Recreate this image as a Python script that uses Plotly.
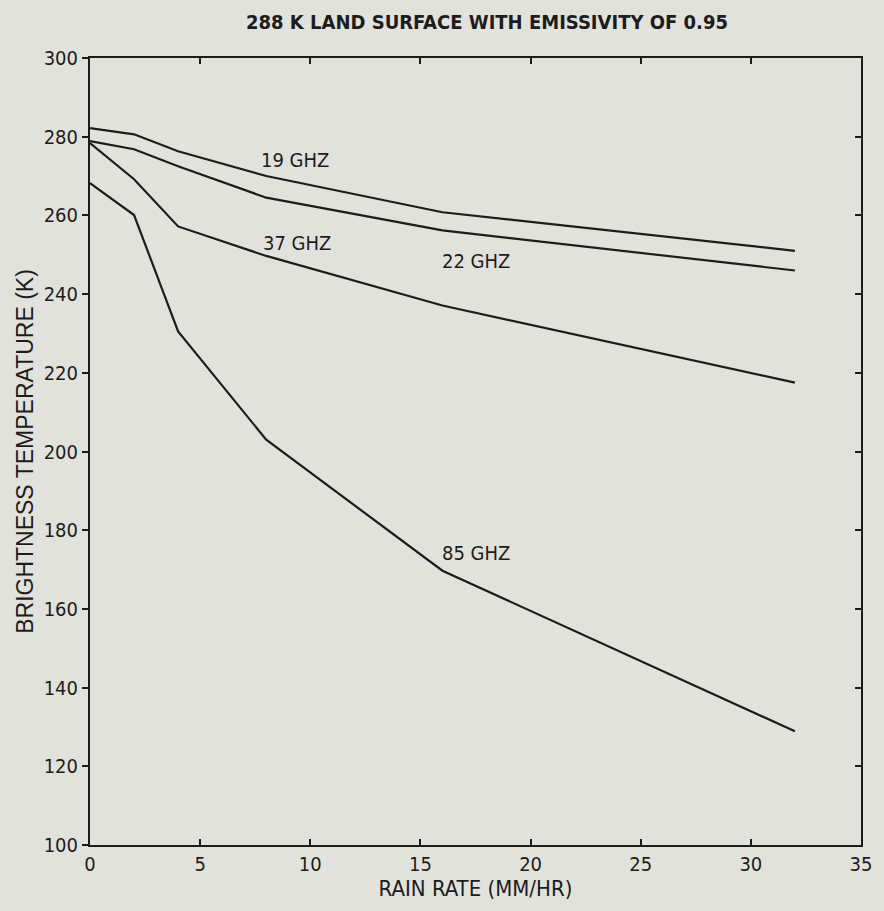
import plotly.graph_objects as go

# Rain rates (mm/hr) at which brightness temperatures were computed
rain_rate = [0, 2, 4, 8, 16, 32]

# Brightness temperatures (K) for each channel
tb_19 = [282.2, 280.6, 276.3, 270.0, 260.8, 251.0]
tb_22 = [278.9, 276.8, 272.5, 264.5, 256.2, 246.0]
tb_37 = [278.4, 269.2, 257.2, 249.7, 237.1, 217.5]
tb_85 = [268.2, 260.1, 230.5, 203.0, 169.7, 128.9]

channels = ["19 GHZ", "22 GHZ", "37 GHZ", "85 GHZ"]
series = [tb_19, tb_22, tb_37, tb_85]

# Where each channel name is written
label_x = [9.3, 17.5, 9.4, 17.5]
label_y = [274.0, 248.3, 252.9, 174.2]

x_ticks = [0, 5, 10, 15, 20, 25, 30, 35]
y_ticks = [100, 120, 140, 160, 180, 200, 220, 240, 260, 280, 300]

FONT = "DejaVu Sans Condensed, Roboto, sans-serif"
WIDE_FONT = "Liberation Sans, Arial, sans-serif"
INK = "#1c1c1c"
PAPER = "#e2e2dc"

fig = go.Figure()

for name, tb in zip(channels, series):
    fig.add_trace(go.Scatter(
        x=rain_rate, y=tb, mode="lines", name=name,
        line=dict(color=INK, width=2.2),
        showlegend=False,
    ))

for name, lx, ly in zip(channels, label_x, label_y):
    fig.add_annotation(
        x=lx, y=ly, text=name, showarrow=False,
        font=dict(family=FONT, size=20, color=INK),
    )

# Mirror of the y axis on the right, with ticks pointing inward
fig.add_trace(go.Scatter(x=[None], y=[None], yaxis="y2", showlegend=False))

fig.update_layout(
    width=884, height=911,
    margin=dict(l=90, r=18, t=58, b=66),
    paper_bgcolor=PAPER, plot_bgcolor=PAPER,
    font=dict(family=FONT, color=INK, size=18),
    xaxis=dict(
        range=[0, 35], tickvals=x_ticks, ticks="inside", ticklen=6,
        tickwidth=1.5, tickcolor=INK, showline=True, linecolor=INK,
        linewidth=2, mirror="ticks", showgrid=False, zeroline=False,
        tickfont=dict(family=FONT, size=20, color=INK),
        title=dict(text="RAIN RATE (MM/HR)", standoff=6,
                   font=dict(family=FONT, size=22, color=INK)),
    ),
    yaxis=dict(
        range=[100, 300], tickvals=y_ticks, ticks="outside", ticklen=6,
        tickwidth=1.5, tickcolor=INK, showline=True, linecolor=INK,
        linewidth=2, showgrid=False, zeroline=False,
        tickfont=dict(family=FONT, size=20, color=INK),
        title=dict(text="BRIGHTNESS TEMPERATURE (K)", standoff=4,
                   font=dict(family=WIDE_FONT, size=23, color=INK)),
    ),
    yaxis2=dict(
        range=[100, 300], tickvals=y_ticks, overlaying="y", side="right",
        ticks="inside", ticklen=6, tickwidth=1.5, tickcolor=INK,
        showticklabels=False, showline=True, linecolor=INK, linewidth=2,
        showgrid=False, zeroline=False,
    ),
)

fig.add_annotation(
    xref="paper", yref="paper", x=0.515, y=1.0, yshift=36, yanchor="middle",
    text="<b>288 K LAND SURFACE WITH EMISSIVITY OF 0.95</b>", showarrow=False,
    font=dict(family=FONT, size=20, color=INK),
)

fig.write_html("out.html")
